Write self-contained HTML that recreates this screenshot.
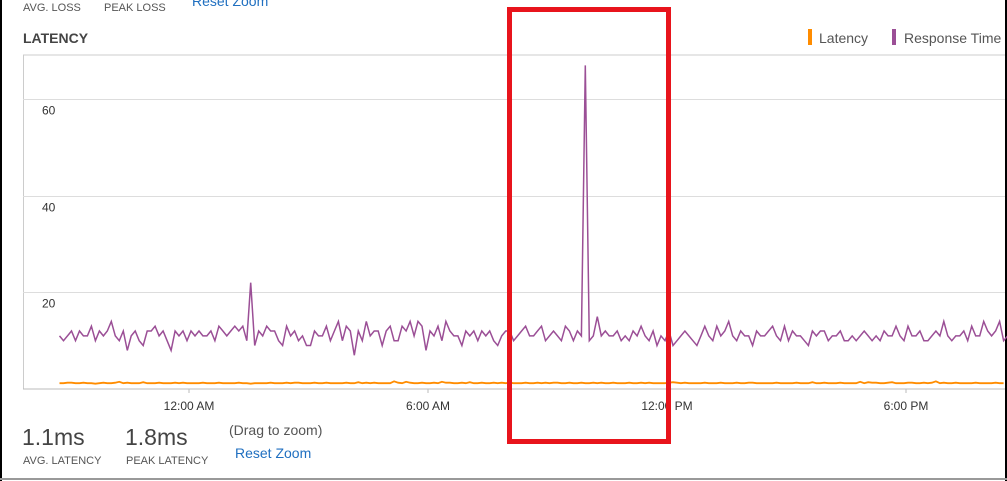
<!DOCTYPE html>
<html><head><meta charset="utf-8">
<style>
body{margin:0;width:1007px;height:481px;background:#fff;font-family:"Liberation Sans",sans-serif;position:relative;overflow:hidden}
.t{position:absolute;white-space:nowrap}
</style></head>
<body>
<div style="position:absolute;left:0;top:0;width:2px;height:481px;background:#000"></div>
<div style="position:absolute;left:1005px;top:0;width:2px;height:481px;background:#000"></div>
<div style="position:absolute;left:0;top:478px;width:1007px;height:2px;background:#999"></div>
<div class="t" style="left:23px;top:2px;font-size:11px;color:#555">AVG. LOSS</div>
<div class="t" style="left:104px;top:2px;font-size:11px;color:#555">PEAK LOSS</div>
<div class="t" style="left:192px;top:-7px;font-size:14px;color:#1f6fc0">Reset Zoom</div>
<div class="t" style="left:23px;top:30px;font-size:14px;font-weight:bold;color:#444">LATENCY</div>
<div style="position:absolute;left:808px;top:29px;width:4px;height:16px;background:#ff8c00"></div>
<div class="t" style="left:819px;top:30px;font-size:14px;color:#555">Latency</div>
<div style="position:absolute;left:892px;top:29px;width:4px;height:16px;background:#9b4f96"></div>
<div class="t" style="left:904px;top:30px;font-size:14px;color:#555">Response Time</div>
<svg id="chart" width="1007" height="481" style="position:absolute;left:0;top:0"></svg>
<div class="t" style="left:22px;top:424px;font-size:23px;color:#444">1.1ms</div>
<div class="t" style="left:23px;top:455px;font-size:11px;color:#555">AVG. LATENCY</div>
<div class="t" style="left:125px;top:424px;font-size:23px;color:#444">1.8ms</div>
<div class="t" style="left:126px;top:455px;font-size:11px;color:#555">PEAK LATENCY</div>
<div class="t" style="left:229px;top:422px;font-size:14px;color:#555">(Drag to zoom)</div>
<div class="t" style="left:235px;top:445px;font-size:14px;color:#1f6fc0">Reset Zoom</div>
<div style="position:absolute;left:507px;top:7px;width:154px;height:427px;border:5px solid #e8141c"></div>
<script>
const yTicks=[20,40,60];
const xTickLabels=["12:00 AM","6:00 AM","12:00 PM","6:00 PM"];
const xTickHours=[0,6,12,18];
const startHour=-3.25;
const stepHours=0.1;
const responseTime=[11,10,11,12,10,12,11,11,13,10,12,11,12,14,11,10,12,8,11,12,10,9,12,12,13,11,12,10,8,12,11,12,10,12,11,12,11,11,12,10,13,12,11,12,13,12,13,10,22,9,12,11,13,12,12,10,9,13,11,12,10,11,9,9,12,11,11,13,10,12,14,10,13,12,7,12,10,14,11,12,12,9,12,13,10,10,13,12,14,11,14,13,8,12,11,13,10,14,12,11,11,9,12,11,12,10,12,11,12,10,9,11,12,12,10,11,12,13,11,11,12,13,10,11,12,11,10,13,12,10,12,11,67,10,11,15,11,12,11,11,12,10,11,10,12,11,13,11,10,12,9,11,10,12,9,10,11,12,11,10,9,11,13,11,10,13,11,12,14,11,10,12,11,11,9,12,11,11,12,13,11,10,13,10,12,11,11,10,9,12,11,12,12,10,11,11,12,10,10,11,10,11,12,11,10,11,10,12,11,11,13,11,10,13,11,11,12,10,10,11,12,11,14,11,10,11,11,12,10,13,11,11,14,12,11,12,14,10,11,13,12,10];
const latency=[1.2,1.2,1.3,1.3,1.2,1.2,1.3,1.2,1.2,1.1,1.2,1.3,1.2,1.2,1.3,1.5,1.2,1.3,1.2,1.2,1.2,1.4,1.2,1.2,1.2,1.3,1.2,1.2,1.2,1.3,1.2,1.3,1.2,1.2,1.2,1.2,1.3,1.2,1.2,1.2,1.3,1.2,1.2,1.2,1.2,1.3,1.2,1.2,1.1,1.2,1.2,1.2,1.2,1.3,1.2,1.2,1.2,1.3,1.2,1.3,1.3,1.2,1.2,1.2,1.3,1.2,1.2,1.3,1.2,1.2,1.2,1.2,1.3,1.2,1.2,1.4,1.2,1.3,1.2,1.3,1.2,1.2,1.2,1.2,1.6,1.3,1.2,1.5,1.3,1.2,1.2,1.3,1.2,1.2,1.3,1.2,1.5,1.3,1.3,1.2,1.2,1.3,1.2,1.4,1.2,1.2,1.3,1.2,1.2,1.3,1.2,1.3,1.2,1.3,1.2,1.2,1.2,1.3,1.2,1.2,1.3,1.2,1.3,1.2,1.3,1.3,1.2,1.2,1.3,1.2,1.2,1.3,1.2,1.2,1.3,1.2,1.3,1.2,1.2,1.3,1.2,1.2,1.2,1.3,1.2,1.2,1.3,1.2,1.3,1.2,1.2,1.2,1.2,1.3,1.4,1.3,1.2,1.3,1.2,1.2,1.2,1.2,1.3,1.2,1.2,1.2,1.3,1.2,1.2,1.2,1.3,1.2,1.2,1.3,1.3,1.2,1.2,1.2,1.2,1.2,1.3,1.2,1.2,1.2,1.2,1.3,1.2,1.2,1.2,1.4,1.2,1.2,1.3,1.2,1.2,1.2,1.3,1.2,1.2,1.2,1.2,1.5,1.2,1.4,1.3,1.3,1.2,1.2,1.3,1.4,1.2,1.2,1.2,1.3,1.3,1.2,1.2,1.3,1.2,1.3,1.6,1.2,1.3,1.2,1.2,1.3,1.2,1.2,1.2,1.2,1.3,1.2,1.2,1.2,1.2,1.3,1.2,1.2];
const svg=document.getElementById('chart');
const NS='http://www.w3.org/2000/svg';
const L=23,R=1005,T=55,B=389;
const xs=h=>189+(h*239/6);
const ys=v=>389-v*4.83;
function mk(tag,attrs){const e=document.createElementNS(NS,tag);for(const k in attrs)e.setAttribute(k,attrs[k]);svg.appendChild(e);return e;}
let e;
e=mk('line',{x1:L,y1:T,x2:R,y2:T,stroke:'#ccc'});


e=mk('line',{x1:L+0.5,y1:T,x2:L+0.5,y2:B,stroke:'#ccc'});


e=mk('line',{x1:L,y1:B,x2:R,y2:B,stroke:'#bbb'});


yTicks.forEach(v=>{
  const y=Math.round(ys(v))+0.5;
  e=mk('line',{x1:L,y1:y,x2:R,y2:y,stroke:'#ddd'});
  
  
  e=mk('text',{x:42,y:y+15,'font-size':12,fill:'#333','font-family':'Liberation Sans, sans-serif'});
  e.textContent=v;
  
  
});
xTickHours.forEach((h,i)=>{
  const x=xs(h);
  e=mk('line',{x1:x,y1:B,x2:x,y2:B+4,stroke:'#bbb'});
  
  
  e=mk('text',{x:x,y:B+21,'font-size':12,fill:'#333','text-anchor':'middle','font-family':'Liberation Sans, sans-serif'});
  e.textContent=xTickLabels[i];
  
  
});
function pts(arr){return arr.map((v,i)=>xs(startHour+i*stepHours).toFixed(1)+','+ys(v).toFixed(1)).join(' ');}
e=mk('polyline',{points:pts(latency),fill:'none',stroke:'#ff8c00','stroke-width':1.8});


e=mk('polyline',{points:pts(responseTime),fill:'none',stroke:'#9b4f96','stroke-width':1.5});


</script>
</body></html>
